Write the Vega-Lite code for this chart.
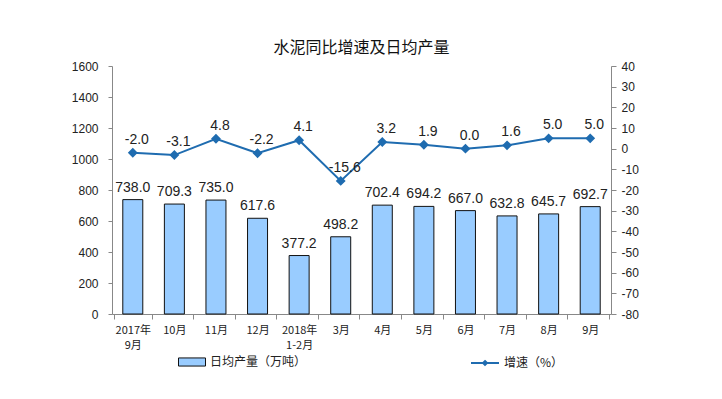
{
  "$schema": "https://vega.github.io/schema/vega-lite/v6.json",
  "autosize": "none",
  "width": 499,
  "height": 248,
  "padding": {"left": 112, "top": 66, "right": 111, "bottom": 85},
  "background": "white",
  "title": {
    "text": "水泥同比增速及日均产量",
    "font": "Noto Sans CJK SC",
    "fontSize": 16,
    "fontWeight": "normal",
    "color": "#111",
    "anchor": "middle",
    "offset": 4
  },
  "config": {
    "view": {"stroke": null},
    "axis": {"grid": false, "domainColor": "#888", "tickColor": "#888", "labelColor": "#222", "labelFont": "Liberation Sans", "labelFontSize": 12, "title": null, "labelOverlap": false}
  },
  "data": {
    "values": [
      {"month": "2017年\n9月", "output": 738.0, "growth": -2.0},
      {"month": "10月", "output": 709.3, "growth": -3.1},
      {"month": "11月", "output": 735.0, "growth": 4.8},
      {"month": "12月", "output": 617.6, "growth": -2.2},
      {"month": "2018年\n1-2月", "output": 377.2, "growth": 4.1},
      {"month": "3月", "output": 498.2, "growth": -15.6},
      {"month": "4月", "output": 702.4, "growth": 3.2},
      {"month": "5月", "output": 694.2, "growth": 1.9},
      {"month": "6月", "output": 667.0, "growth": 0.0},
      {"month": "7月", "output": 632.8, "growth": 1.6},
      {"month": "8月", "output": 645.7, "growth": 5.0},
      {"month": "9月", "output": 692.7, "growth": 5.0}
    ]
  },
  "encoding": {
    "x": {
      "field": "month", "type": "nominal", "sort": null,
      "axis": {"labelAngle": 0, "tickBand": "extent", "tickSize": 5, "labelPadding": 5, "labelFont": "Noto Sans CJK SC", "labelFontSize": 11, "labelLineHeight": 15, "labelExpr": "split(datum.label, '\\n')"}
    }
  },
  "layer": [
    {
      "layer": [
        {
          "mark": {"type": "bar", "size": 20, "stroke": "#111", "strokeWidth": 1},
          "encoding": {
            "y": {"field": "output", "type": "quantitative", "scale": {"domain": [0, 1600]}, "axis": {"values": [0,200,400,600,800,1000,1200,1400,1600], "format": "d", "tickSize": 4, "labelPadding": 10}},
            "fill": {
              "datum": "日均产量（万吨）",
              "type": "nominal",
              "scale": {"range": ["#99CCFF"]},
              "legend": {"orient": "none", "legendX": 66, "legendY": 282, "title": null, "symbolType": "M-1,-0.3H1V0.3H-1Z", "symbolSize": 729, "symbolStrokeColor": "#111", "symbolStrokeWidth": 1, "labelFont": "Noto Sans CJK SC", "labelFontSize": 12, "labelColor": "#222", "labelOffset": 4}
            }
          }
        },
        {
          "mark": {"type": "text", "dy": -12, "font": "Liberation Sans", "fontSize": 14, "color": "#222"},
          "encoding": {
            "y": {"field": "output", "type": "quantitative", "scale": {"domain": [0, 1600]}, "axis": {"values": [0,200,400,600,800,1000,1200,1400,1600], "format": "d", "tickSize": 4, "labelPadding": 10}},
            "text": {"field": "output", "type": "quantitative", "format": ".1f"}
          }
        }
      ]
    },
    {
      "layer": [
        {
          "mark": {"type": "line", "strokeWidth": 2, "point": {"shape": "diamond", "size": 50, "filled": true, "color": "#1F6CB0"}},
          "encoding": {
            "y": {"field": "growth", "type": "quantitative", "scale": {"domain": [-80, 40]}, "axis": {"orient": "right", "values": [-80,-70,-60,-50,-40,-30,-20,-10,0,10,20,30,40], "labelExpr": "replace(datum.label, '\u2212', '-')", "tickSize": 5, "labelPadding": 5}},
            "stroke": {
              "datum": "增速（%）",
              "type": "nominal",
              "scale": {"range": ["#1F6CB0"]},
              "legend": {"orient": "none", "legendX": 358, "legendY": 282, "title": null, "symbolType": "M-1,0H1M0,-0.14L0.14,0L0,0.14L-0.14,0Z", "symbolSize": 784, "symbolFillColor": "#1F6CB0", "symbolStrokeWidth": 2, "labelFont": "Noto Sans CJK SC", "labelFontSize": 12, "labelColor": "#222", "labelOffset": 4}
            }
          }
        },
        {
          "mark": {"type": "text", "dy": -13, "dx": 4, "font": "Liberation Sans", "fontSize": 14, "color": "#222", "text": {"expr": "replace(format(datum.growth, '.1f'), '\u2212', '-')"}},
          "encoding": {
            "y": {"field": "growth", "type": "quantitative", "scale": {"domain": [-80, 40]}, "axis": {"orient": "right", "values": [-80,-70,-60,-50,-40,-30,-20,-10,0,10,20,30,40], "labelExpr": "replace(datum.label, '\u2212', '-')", "tickSize": 5, "labelPadding": 5}}
          }
        }
      ]
    }
  ],
  "resolve": {"scale": {"y": "independent"}}
}
